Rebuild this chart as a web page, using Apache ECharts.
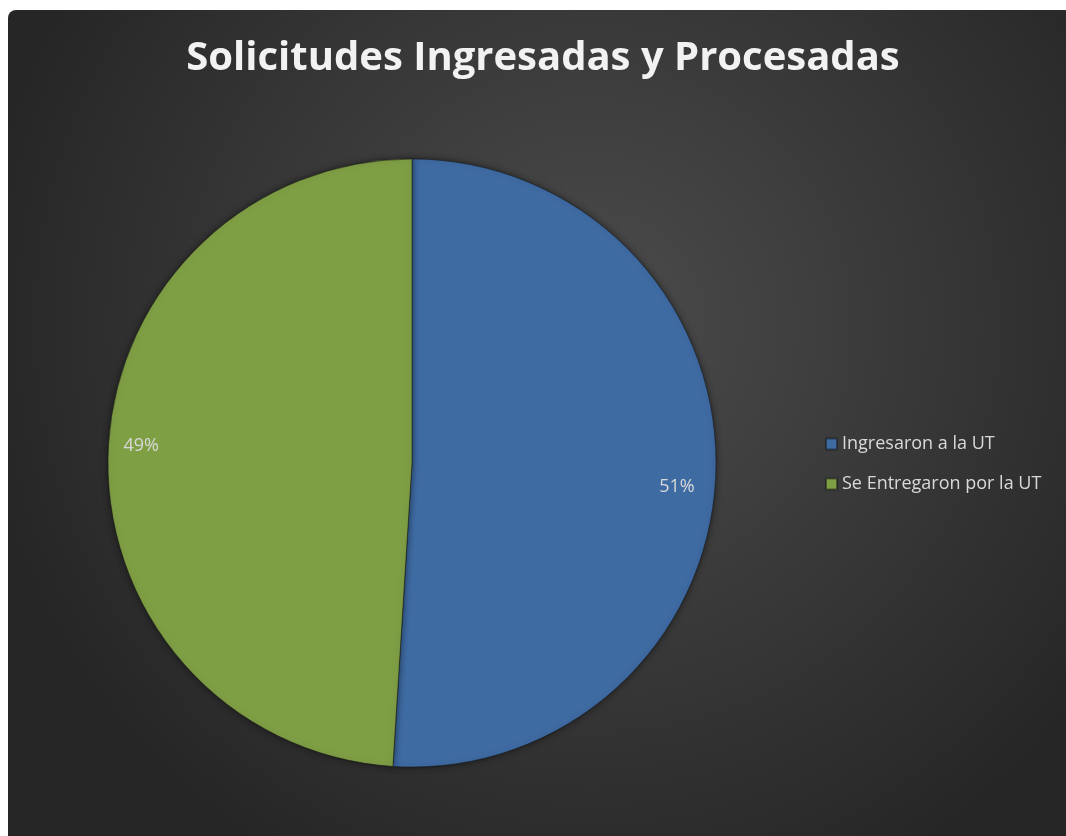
<!DOCTYPE html>
<html>
<head>
<meta charset="utf-8">
<script src="https://cdn.jsdelivr.net/npm/echarts@6/dist/echarts.min.js"></script>
<style>
  html, body { margin: 0; padding: 0; background: #ffffff; }
  #chart { position: absolute; left: 8px; top: 10px; width: 1058px; height: 826px; border-top-left-radius: 8px; overflow: hidden; }
</style>
</head>
<body>
<div id="chart"></div>
<script>
const titleText = 'Solicitudes Ingresadas y Procesadas';
const categories = ['Ingresaron a la UT', 'Se Entregaron por la UT'];
const values = [51, 49];
const colors = ['#3f6ba3', '#7f9f45'];
const labelOffsets = [[-6, 15], [0, -9]];

const chart = echarts.init(document.getElementById('chart'));
const pieData = categories.map((c, i) => ({ name: c, value: values[i], itemStyle: { color: colors[i] } }));

chart.setOption({
  backgroundColor: {
    type: 'radial', x: 0.55, y: 0.38, r: 0.75,
    colorStops: [{ offset: 0, color: '#4c4c4c' }, { offset: 1, color: '#262626' }]
  },
  title: {
    text: titleText,
    left: 530, textAlign: 'center', top: 24,
    textStyle: { color: '#f2f2f2', fontFamily: 'Open Sans', fontWeight: 'bold', fontSize: 40 }
  },
  legend: {
    orient: 'vertical', left: 812, top: 419,
    itemWidth: 11, itemHeight: 11, itemGap: 20,
    icon: 'rect',
    data: categories,
    textStyle: { color: '#d9d9d9', fontFamily: 'Open Sans', fontSize: 18, lineHeight: 20 }
  },
  series: [
    {
      type: 'pie', center: [404, 453], radius: [0, 304], startAngle: 90, clockwise: true,
      data: pieData, silent: true,
      itemStyle: { borderColor: 'rgba(20,20,20,0.5)', borderWidth: 1, shadowBlur: 6, shadowColor: 'rgba(0,0,0,0.5)' },
      label: { show: false }, labelLine: { show: false }
    },
    {
      type: 'pie', center: [404, 453], radius: [0, 536], startAngle: 90, clockwise: true,
      data: categories.map((c, i) => ({
        name: c, value: values[i],
        itemStyle: { color: 'rgba(0,0,0,0)' },
        label: { offset: labelOffsets[i] }
      })),
      silent: true, legendHoverLink: false,
      label: { show: true, position: 'inside', formatter: '{d}%', color: '#d9d9d9', fontFamily: 'Open Sans', fontSize: 18 },
      labelLine: { show: false }
    }
  ]
});
</script>
</body>
</html>
